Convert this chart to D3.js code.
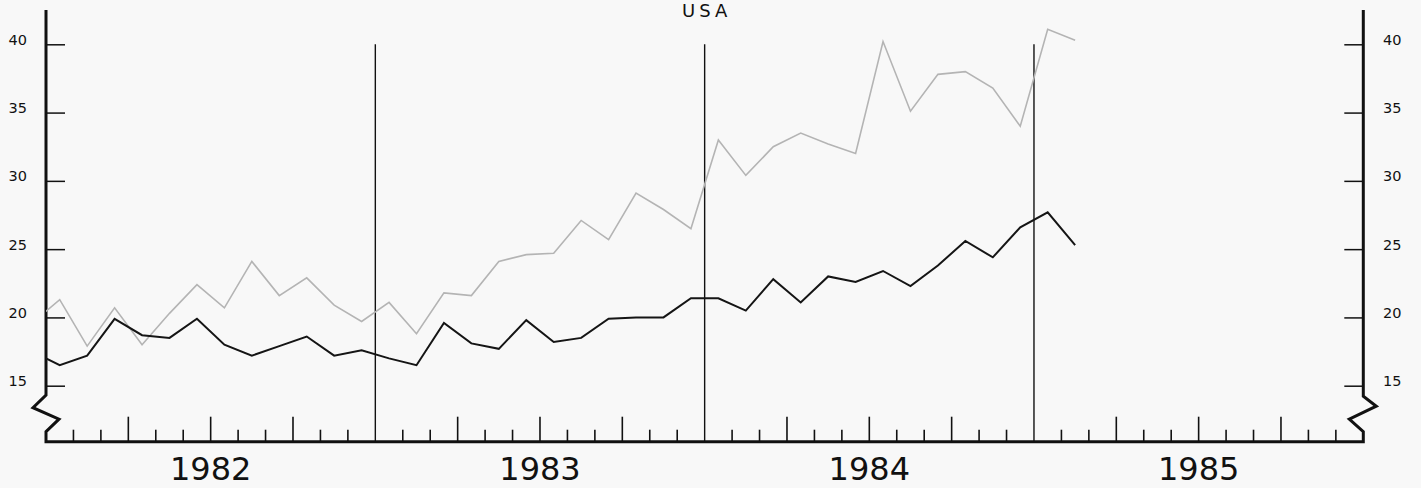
<!DOCTYPE html>
<html>
<head>
<meta charset="utf-8">
<script src="https://cdn.jsdelivr.net/npm/d3@7"></script>
<style>
  html, body { margin: 0; padding: 0; background: #f8f8f8; }
  svg { display: block; }
  text { font-family: "DejaVu Sans", sans-serif; fill: #111; }
</style>
</head>
<body>
<svg id="chart" width="1421" height="488"></svg>
<script>
// ---- data (monthly, Dec 1981 .. Feb 1985) ----
const title = "USA";
const years = ["1982", "1983", "1984", "1985"];
const yTicks = [15, 20, 25, 30, 35, 40];
// month index: -1 = Dec 1981, 0 = Jan 1982, ...
const monthIndex = d3.range(-1, 38);
const darkSeries = [17.5, 16.5, 17.2, 19.9, 18.7, 18.5, 19.9, 18.0, 17.2, 17.9, 18.6, 17.2, 17.6,
                    17.0, 16.5, 19.6, 18.1, 17.7, 19.8, 18.2, 18.5, 19.9, 20.0, 20.0, 21.4,
                    21.4, 20.5, 22.8, 21.1, 23.0, 22.6, 23.4, 22.3, 23.8, 25.6, 24.4, 26.6,
                    27.7, 25.3];
const lightSeries = [19.6, 21.3, 17.9, 20.7, 18.0, 20.3, 22.4, 20.7, 24.1, 21.6, 22.9, 20.9, 19.7,
                     21.1, 18.8, 21.8, 21.6, 24.1, 24.6, 24.7, 27.1, 25.7, 29.1, 27.9, 26.5,
                     33.0, 30.4, 32.5, 33.5, 32.7, 32.0, 40.2, 35.1, 37.8, 38.0, 36.8, 34.0,
                     41.1, 40.3];

const svg = d3.select("#chart");
const x = d3.scaleLinear().domain([0, 48]).range([46, 1363.3]);
const y = d3.scaleLinear().domain([15, 40]).range([385.7, 44.3]);
const baseY = 441.7;
const topY = 10;
const x0 = x(0), x1 = x(48);

// clip
svg.append("clipPath").attr("id", "plotclip")
  .append("rect").attr("x", x0).attr("y", 0).attr("width", x1 - x0).attr("height", baseY);

// title
svg.append("text").attr("x", (x0 + x1) / 2 + 2).attr("y", 17).attr("text-anchor", "middle")
  .style("font-size", "18px").style("letter-spacing", "4px").text(title);

// year boundary lines
svg.append("g").selectAll("line").data([12, 24, 36]).join("line")
  .attr("x1", d => x(d)).attr("x2", d => x(d))
  .attr("y1", y(40)).attr("y2", baseY)
  .attr("stroke", "#111").attr("stroke-width", 1.4);

// month ticks
const monthTicks = d3.range(1, 48).filter(m => m % 12 !== 0);
svg.append("g").selectAll("line").data(monthTicks).join("line")
  .attr("x1", d => x(d)).attr("x2", d => x(d))
  .attr("y1", d => d % 3 === 0 ? baseY - 25 : baseY - 12)
  .attr("y2", baseY)
  .attr("stroke", "#111").attr("stroke-width", 1.6);

// year labels
svg.append("g").selectAll("text").data(years).join("text")
  .attr("x", (d, i) => x(i * 12 + 6)).attr("y", 480)
  .attr("text-anchor", "middle").style("font-size", "32px").text(d => d);

// left & right axis y ticks via d3 axes
const leftAxis = d3.axisRight(y).tickValues(yTicks).tickSize(19).tickFormat("");
const rightAxis = d3.axisLeft(y).tickValues(yTicks).tickSize(19).tickFormat("");
const ga = svg.append("g").attr("transform", `translate(${x0},0)`).call(leftAxis);
const gb = svg.append("g").attr("transform", `translate(${x1},0)`).call(rightAxis);
[ga, gb].forEach(g => {
  g.select(".domain").remove();
  g.selectAll(".tick line").attr("stroke", "#111").attr("stroke-width", 1.5);
});

// tick labels
svg.append("g").selectAll("text").data(yTicks).join("text")
  .attr("x", 27).attr("y", d => y(d) + 0.5).attr("text-anchor", "end")
  .style("font-size", "14.5px").text(d => d);
svg.append("g").selectAll("text").data(yTicks).join("text")
  .attr("x", 1383).attr("y", d => y(d) + 0.5).attr("text-anchor", "start")
  .style("font-size", "14.5px").text(d => d);

// axis frame with break marks
const bT = y(15) + 9.5;
const framePath = d3.path();
framePath.moveTo(x0, topY);
framePath.lineTo(x0, bT);
framePath.lineTo(x0 - 13, bT + 12.5);
framePath.lineTo(x0 + 13, bT + 24);
framePath.lineTo(x0, bT + 36.5);
framePath.lineTo(x0, baseY);
framePath.lineTo(x1, baseY);
framePath.lineTo(x1, bT + 36.5);
framePath.lineTo(x1 - 14, bT + 24);
framePath.lineTo(x1 + 13, bT + 11);
framePath.lineTo(x1, bT + 1);
framePath.lineTo(x1, topY);
svg.append("path").attr("d", framePath.toString())
  .attr("fill", "none").attr("stroke", "#111").attr("stroke-width", 3)
  .attr("stroke-linejoin", "miter");

// lines
const line = d3.line().x(d => x(d[0] + 0.5)).y(d => y(d[1]));
const g = svg.append("g").attr("clip-path", "url(#plotclip)");
g.append("path").datum(monthIndex.map((m, i) => [m, lightSeries[i]]))
  .attr("d", line).attr("fill", "none").attr("stroke", "#b4b4b4").attr("stroke-width", 1.6);
g.append("path").datum(monthIndex.map((m, i) => [m, darkSeries[i]]))
  .attr("d", line).attr("fill", "none").attr("stroke", "#151515").attr("stroke-width", 2);
</script>
</body>
</html>
